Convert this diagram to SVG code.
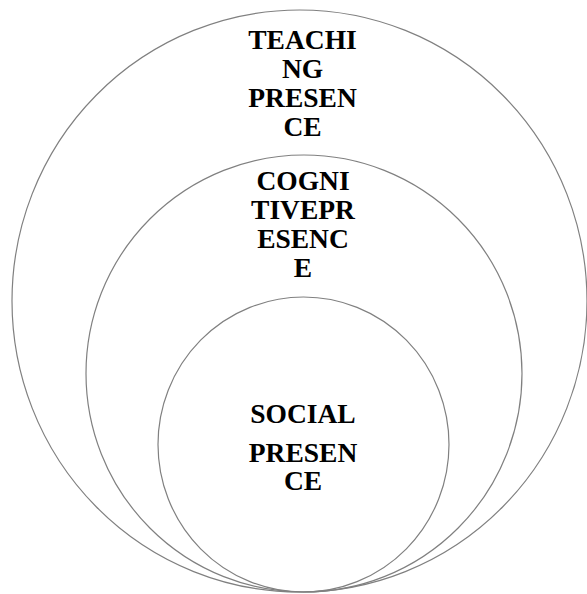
<svg xmlns="http://www.w3.org/2000/svg" width="587" height="594" viewBox="0 0 587 594">
<style>
.c{fill:none;stroke:#808080;stroke-width:1.2}
.t{font-family:"Liberation Serif","Times New Roman",serif;font-weight:bold;font-size:27.5px;fill:#000;text-anchor:middle}
</style>
<rect width="587" height="594" fill="#fff"/>
<g id="teaching">
<ellipse class="c" cx="299.5" cy="301" rx="287.5" ry="291"/>
<text class="t" x="302.5" y="49">TEACHI</text>
<text class="t" x="302.5" y="78">NG</text>
<text class="t" x="302.5" y="107">PRESEN</text>
<text class="t" x="302.5" y="136">CE</text>
</g>
<g id="cognitive">
<ellipse class="c" cx="304" cy="373.5" rx="218" ry="218.5"/>
<text class="t" x="303" y="190">COGNI</text>
<text class="t" x="303" y="219">TIVEPR</text>
<text class="t" x="303" y="248">ESENC</text>
<text class="t" x="303" y="277">E</text>
</g>
<g id="social">
<ellipse class="c" cx="303.5" cy="444.5" rx="145.5" ry="147.5"/>
<text class="t" x="303" y="423">SOCIAL</text>
<text class="t" x="303" y="462">PRESEN</text>
<text class="t" x="303" y="490">CE</text>
</g>
<g id="connectors"/>
</svg>
